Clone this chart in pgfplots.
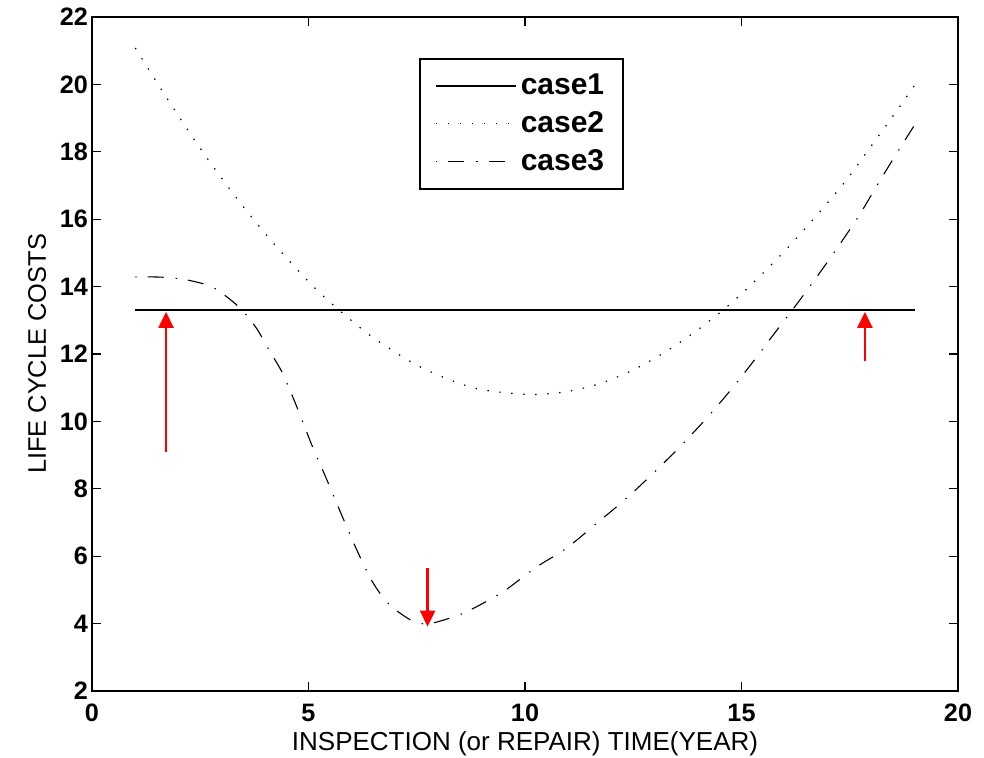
\documentclass[border=0pt]{standalone}
\usepackage{fontspec}
\setmainfont{Liberation Sans}
\usepackage{pgfplots}
\pgfplotsset{compat=1.18}
\usetikzlibrary{arrows.meta}

\begin{document}
\begin{tikzpicture}
\useasboundingbox (-46pt,-33.5pt) rectangle (446pt,345.5pt);
\begin{axis}[
  at={(0pt,0pt)}, anchor=south west,
  scale only axis, width=433pt, height=337pt,
  xmin=0, xmax=20, ymin=2, ymax=22,
  xtick={0,5,...,20}, ytick={2,4,...,22},
  axis line style={line width=1pt},
  every tick/.style={black, line width=0.6pt},
  major tick length=4.5pt,
  /pgf/number format/assume math mode=true,
  ticklabel style={font=\bfseries\fontsize{12.6}{14}\selectfont},
  xticklabel style={yshift=-3pt},
  yticklabel style={xshift=1.5pt},
  xlabel={INSPECTION (or REPAIR) TIME(YEAR)},
  ylabel={LIFE CYCLE COSTS},
  xlabel style={font=\fontsize{13}{15}\selectfont, yshift=2pt},
  ylabel style={font=\fontsize{12.7}{15}\selectfont},
  legend cell align=left,
  legend style={at={(0.378,0.939)}, anchor=north west,
    font=\bfseries\fontsize{15}{18}\selectfont,
    draw=black, line width=1pt, row sep=3pt,
    inner xsep=7.5pt, inner ysep=5.5pt},
  legend image code/.code={\draw[#1] (0pt,0pt) -- (40pt,0pt);},
]
\addplot[black, line width=0.7pt] coordinates {(1,13.3) (19,13.3)};
\addlegendentry{case1}

\addplot[black, line width=0.6pt, dash pattern=on 0.7pt off 5.3pt, smooth] coordinates {
(1,21.08) (1.74,19.57) (2.49,18.12) (3.30,16.69) (4.16,15.33) (5.09,14.03)
(5.70,13.31) (6.33,12.64) (6.78,12.24) (7.47,11.69) (8.23,11.25) (9.0,10.94)
(10.12,10.80) (10.95,10.88) (11.75,11.13) (12.52,11.54) (13.25,12.07)
(13.93,12.66) (14.58,13.31) (15.18,14.0) (15.97,15.02) (16.70,16.06)
(17.39,17.11) (18.04,18.25) (18.68,19.39) (19,19.98)};
\addlegendentry{case2}

\addplot[black, line width=0.55pt, dash pattern=on 0.7pt off 5.5pt on 8pt off 6pt, smooth] coordinates {
(1,14.29) (1.6,14.28) (2.1,14.22) (2.49,14.11) (2.76,14.00) (3.11,13.70)
(3.46,13.31) (3.80,12.76) (4.11,12.07) (4.40,11.43) (4.75,10.37) (5.07,9.32)
(5.42,8.28) (5.76,7.24) (6.11,6.20) (6.50,5.19) (6.88,4.55) (7.34,4.12)
(7.6,4.0) (7.88,4.02) (8.35,4.20) (8.73,4.40) (9.5,4.95) (10.23,5.65)
(10.95,6.23) (11.65,6.97) (12.31,7.68) (12.96,8.46) (13.58,9.25) (14.19,10.09)
(14.75,10.93) (15.31,11.84) (15.70,12.51) (16.20,13.35) (16.74,14.29)
(17.24,15.20) (17.72,16.12) (18.18,17.11) (18.64,18.07) (19,18.80)};
\addlegendentry{case3}

\addplot[red, line width=1.2pt, -{Triangle[width=7.5pt,length=8pt]}, forget plot]
  coordinates {(1.71,9.1) (1.71,13.25)};
\addplot[red, line width=1.2pt, -{Triangle[width=7.5pt,length=8pt]}, forget plot]
  coordinates {(17.85,11.8) (17.85,13.25)};
\addplot[red, line width=1.2pt, -{Triangle[width=7.5pt,length=8pt]}, forget plot]
  coordinates {(7.75,5.64) (7.75,3.91)};
\end{axis}
\end{tikzpicture}
\end{document}
